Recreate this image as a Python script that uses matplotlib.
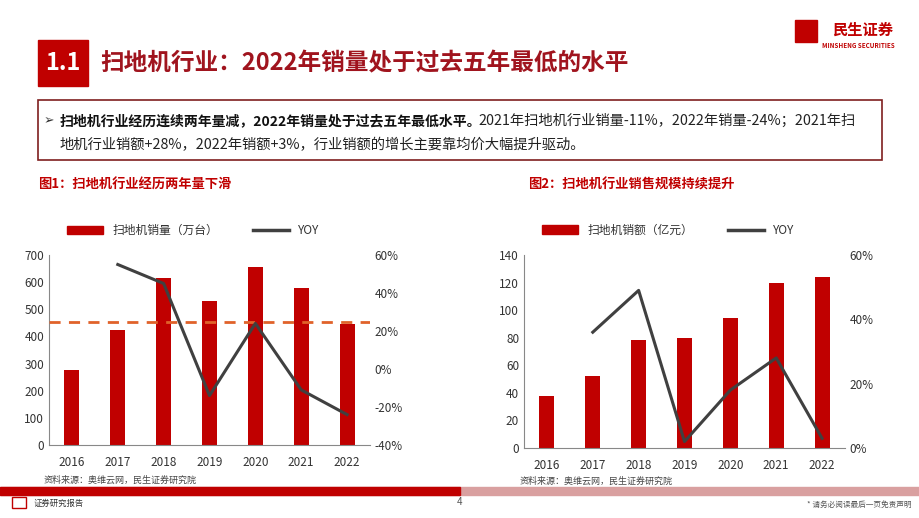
import matplotlib
matplotlib.use("Agg")
import matplotlib.pyplot as plt
from matplotlib.patches import Rectangle
from matplotlib.lines import Line2D
import matplotlib.ticker as mt

plt.rcParams["font.family"] = ["Noto Sans CJK SC", "DejaVu Sans"]

years = ["2016", "2017", "2018", "2019", "2020", "2021", "2022"]
volume = [275, 425, 615, 530, 655, 580, 445]
volume_yoy = [None, 55, 45, -14, 24, -11, -24]
sales = [38, 52, 78, 80, 94, 120, 124]
sales_yoy = [None, 36, 49, 2, 18, 28, 3]
avg_line = 455

RED = "#C00000"
GREY = "#404040"
W, H = 920, 518

fig = plt.figure(figsize=(9.2, 5.18), dpi=100)

def box(x, y, w, h, **kw):
    fig.patches.append(Rectangle((x / W, 1 - (y + h) / H), w / W, h / H, transform=fig.transFigure, **kw))

def txt(x, y, s, **kw):
    fig.text(x / W, 1 - y / H, s, **kw)

# header
box(38, 40, 50, 46, color="#C00000")
txt(63, 63, "1.1", color="white", fontsize=17, fontweight="bold", ha="center", va="center")
txt(100, 63, "扫地机行业：2022年销量处于过去五年最低的水平", color="#A0141E", fontsize=17, fontweight="bold", va="center")
txt(832, 30, "民生证券", color="#C00000", fontsize=11, fontweight="bold", va="center")
txt(822, 45, "MINSHENG SECURITIES", color="#C00000", fontsize=4.5, fontweight="bold", va="center")
box(795, 20, 22, 22, color="#C00000")

# text box
box(38, 100, 844, 60, facecolor="white", edgecolor="#7F1F1F", linewidth=1.2)
txt(44, 121, "➢", fontsize=9, va="center", color="#333333")
txt(60, 121, "扫地机行业经历连续两年量减，2022年销量处于过去五年最低水平。", fontsize=10, fontweight="bold", va="center", color="#111111")
txt(478, 121, "2021年扫地机行业销量-11%，2022年销量-24%；2021年扫", fontsize=10.3, va="center", color="#222222")
txt(60, 145, "地机行业销额+28%，2022年销额+3%，行业销额的增长主要靠均价大幅提升驱动。", fontsize=10.3, va="center", color="#222222")

txt(38, 185, "图1：扫地机行业经历两年量下滑", color="#C00000", fontsize=9.5, fontweight="bold", va="center")
txt(528, 185, "图2：扫地机行业销售规模持续提升", color="#C00000", fontsize=9.5, fontweight="bold", va="center")

def chart(rect, bars, yoy, ymax, ystep, ylim2, ystep2, label, hline=None):
    ax = fig.add_axes(rect)
    x = range(len(years))
    ax.bar(x, bars, width=0.33, color=RED, zorder=2, label=label)
    ax.set_ylim(0, ymax)
    ax.yaxis.set_major_locator(mt.MultipleLocator(ystep))
    ax.set_xlim(-0.5, len(years) - 0.5)
    ax.set_xticks(list(x), years)
    for s in ["top", "right"]:
        ax.spines[s].set_visible(False)
    for s in ["left", "bottom"]:
        ax.spines[s].set_color("#888888")
    ax.tick_params(length=0, labelsize=8.5, colors="#333333")
    ax.tick_params(axis="x", pad=8)
    if hline is not None:
        ax.axhline(hline, color="#E0622A", linestyle=(0, (4, 3)), linewidth=2, zorder=3)
    ax2 = ax.twinx()
    xs = [i for i, v in enumerate(yoy) if v is not None]
    ys = [v for v in yoy if v is not None]
    ax2.plot(xs, ys, color=GREY, linewidth=2.2, zorder=4)
    ax2.set_ylim(*ylim2)
    ax2.yaxis.set_major_locator(mt.MultipleLocator(ystep2))
    ax2.yaxis.set_major_formatter(mt.FuncFormatter(lambda v, p: f"{v:.0f}%"))
    for s in ax2.spines.values():
        s.set_visible(False)
    ax2.tick_params(length=0, labelsize=8.5, colors="#333333")
    handles = [Rectangle((0, 0), 1, 1, color=RED), Line2D([], [], color=GREY, linewidth=2.5)]
    ax.legend(handles, [label, "YOY"], loc="lower center", bbox_to_anchor=(0.45, 1.04), ncol=2,
              frameon=False, fontsize=8.5, handlelength=3, columnspacing=3, labelcolor="#333333")
    return ax

chart([49 / W, 1 - 445 / H, 321 / W, 190 / H], volume, volume_yoy, 700, 100, (-40, 60), 20, "扫地机销量（万台）", avg_line)
chart([524 / W, 1 - 448 / H, 321 / W, 193 / H], sales, sales_yoy, 140, 20, (0, 60), 20, "扫地机销额（亿元）")

txt(44, 480, "资料来源：奥维云网，民生证券研究院", fontsize=6.5, color="#444444", va="center")
txt(520, 481, "资料来源：奥维云网，民生证券研究院", fontsize=6.5, color="#444444", va="center")

# footer
box(0, 487, 920, 8, color="#D9A0A0")
box(0, 487, 460, 8, color="#C00000")
txt(34, 503, "证券研究报告", fontsize=6, color="#333333", va="center")
box(12, 497, 14, 11, facecolor="white", edgecolor="#C00000", linewidth=1)
txt(460, 502, "4", fontsize=7, color="#555555", va="center", ha="center")
txt(912, 505, "* 请务必阅读最后一页免责声明", fontsize=5.5, color="#555555", va="center", ha="right")

fig.savefig("out.png", dpi=100)
